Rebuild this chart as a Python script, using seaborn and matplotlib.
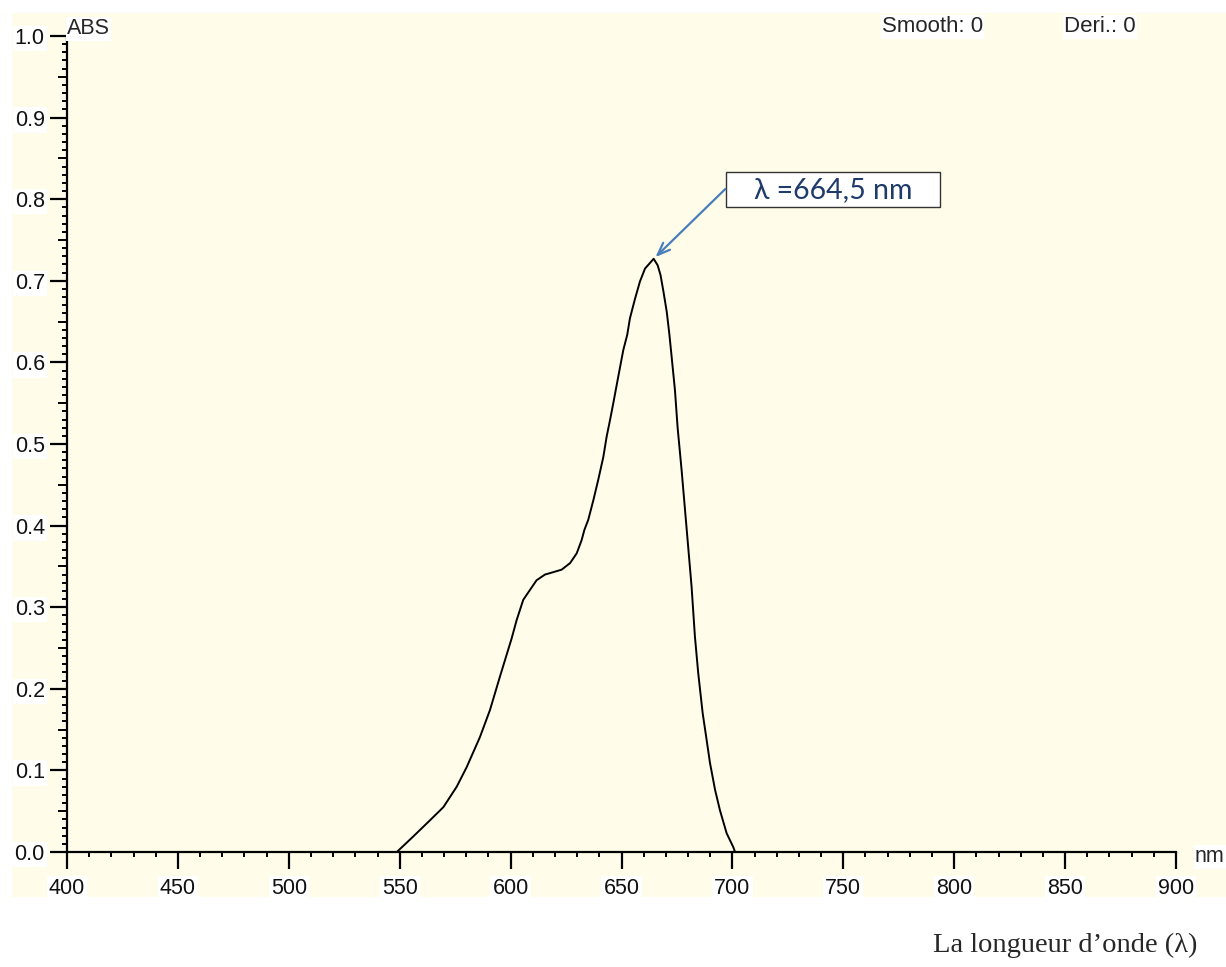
import matplotlib
matplotlib.use("Agg")
import matplotlib.pyplot as plt
from matplotlib.patches import Rectangle
from matplotlib.ticker import MultipleLocator
import seaborn as sns

# Absorption spectrum (wavelength in nm, absorbance)
wavelength = [548.7, 556.1, 563.7, 569.7, 575.7, 580.2, 586.2, 590.7, 595.2, 600.5,
              602.7, 605.7, 608.7, 611.7, 615.5, 619.3, 623.0, 626.8, 629.8, 632.0,
              633.3, 635.0, 637.3, 639.5, 641.8, 643.3, 644.8, 646.3, 648.5, 650.8,
              652.6, 653.8, 656.1, 658.3, 660.6, 664.5, 666.3, 667.6, 668.9, 670.4,
              671.6, 672.6, 674.1, 675.3, 677.1, 679.4, 681.6, 683.1, 684.6, 686.6,
              688.4, 689.9, 692.2, 694.4, 697.4, 700.4, 701.2]
absorbance = [0.000, 0.019, 0.039, 0.055, 0.080, 0.104, 0.141, 0.174, 0.215, 0.262,
              0.284, 0.309, 0.321, 0.333, 0.340, 0.343, 0.346, 0.354, 0.366, 0.382,
              0.395, 0.407, 0.431, 0.456, 0.484, 0.509, 0.529, 0.550, 0.582, 0.615,
              0.634, 0.654, 0.678, 0.699, 0.715, 0.727, 0.719, 0.707, 0.687, 0.662,
              0.634, 0.607, 0.566, 0.520, 0.468, 0.395, 0.325, 0.264, 0.219, 0.170,
              0.137, 0.109, 0.076, 0.051, 0.023, 0.006, 0.000]

x_ticks = [400, 450, 500, 550, 600, 650, 700, 750, 800, 850, 900]
y_ticks = [0.0, 0.1, 0.2, 0.3, 0.4, 0.5, 0.6, 0.7, 0.8, 0.9, 1.0]
peak_label = "λ =664,5 nm"

sns.set_style("ticks")
plt.rcParams["font.family"] = ["Liberation Sans", "DejaVu Sans"]

cream = "#FFFDE9"
W, H = 1226, 967
fig = plt.figure(figsize=(W / 100, H / 100), dpi=100)
fig.patch.set_facecolor("white")
fig.patches.append(Rectangle((12 / W, 1 - 897 / H), (W - 12) / W, (897 - 13) / H,
                             transform=fig.transFigure, facecolor=cream,
                             edgecolor="none", zorder=-10))

ax = fig.add_axes([67 / W, 1 - 852 / H, (1176 - 67) / W, (852 - 36) / H])
ax.set_facecolor(cream)

sns.lineplot(x=wavelength, y=absorbance, ax=ax, color="black", linewidth=1.4,
             estimator=None)

ax.set_xlim(400, 900)
ax.set_ylim(0, 1.0)
ax.set_xticks(x_ticks)
ax.set_xticklabels([str(t) for t in x_ticks])
ax.set_yticks(y_ticks)
ax.set_yticklabels([f"{t:.1f}" for t in y_ticks])
ax.xaxis.set_minor_locator(MultipleLocator(10))
ax.yaxis.set_minor_locator(MultipleLocator(0.01))

for side in ("top", "right"):
    ax.spines[side].set_visible(False)
for side in ("left", "bottom"):
    ax.spines[side].set_linewidth(1.6)
    ax.spines[side].set_color("black")

ax.tick_params(axis="both", which="major", direction="out", length=12,
               width=1.6, color="black", labelsize=15.5, labelcolor="#111111")
ax.tick_params(axis="x", which="major", pad=7)
ax.tick_params(axis="y", which="major", pad=4)
ax.tick_params(axis="both", which="minor", direction="out", length=3.5,
               width=1.4, color="black")

for lbl in ax.get_xticklabels() + ax.get_yticklabels():
    lbl.set_bbox(dict(facecolor="white", edgecolor="none", pad=1.5))

# medium ticks at the half-tenths of absorbance
sec = ax.secondary_yaxis("left")
sec.set_yticks([0.05 + 0.1 * i for i in range(10)])
sec.set_yticklabels([])
sec.tick_params(axis="y", which="major", length=6.5, width=1.4, color="black")
sec.tick_params(axis="y", which="minor", length=0)
sec.spines["left"].set_visible(False)

# peak annotation
i_peak = absorbance.index(max(absorbance))
ax.add_patch(Rectangle((697.1, 0.790), 96.5, 0.043, facecolor="white",
                       edgecolor="#333333", linewidth=1.0, zorder=5))
ax.text(745.4, 0.8115, peak_label, ha="center", va="center", fontsize=20.5,
        color="#1F3B6B", family=["Lato", "DejaVu Sans"], zorder=6)
ax.annotate("", xy=(wavelength[i_peak] + 0.8, absorbance[i_peak] + 0.002),
            xytext=(696.8, 0.8125),
            arrowprops=dict(arrowstyle="->,head_length=0.9,head_width=0.35",
                            color="#4A7EBB", linewidth=1.6, shrinkA=0, shrinkB=0),
            zorder=6)

# labels around the plot frame
box = dict(facecolor="white", edgecolor="none", pad=1.0)
fig.text(67 / W, 1 - 29 / H, "ABS", fontsize=15.5, ha="left", va="center", bbox=box)
fig.text(882 / W, 1 - 27 / H, "Smooth: 0", fontsize=16, ha="left", va="center", bbox=box)
fig.text(1064 / W, 1 - 27 / H, "Deri.: 0", fontsize=16, ha="left", va="center", bbox=box)
fig.text(1195 / W, 1 - 857 / H, "nm", fontsize=15.5, ha="left", va="center", bbox=box)
fig.text(1065 / W, 1 - 945 / H, "La longueur d\u2019onde (λ)", fontsize=20.5,
         ha="center", va="center", family=["Liberation Serif", "DejaVu Serif"])

fig.savefig("out.png", dpi=100, facecolor="white")
